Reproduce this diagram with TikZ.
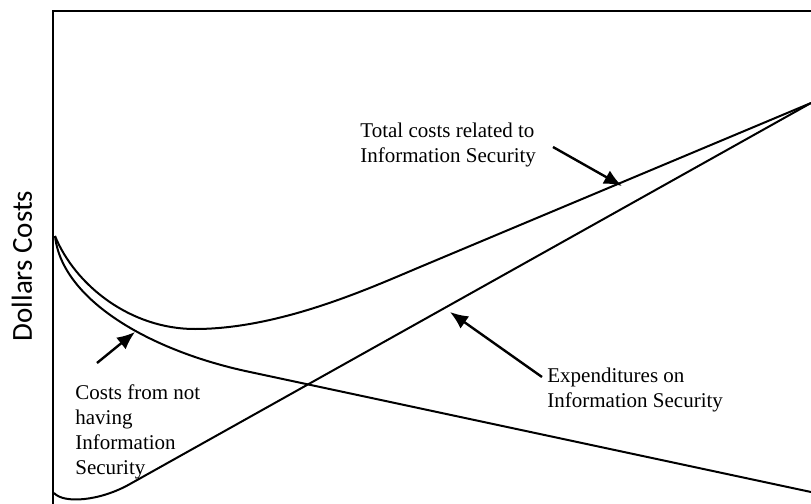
\documentclass[tikz,border=0pt]{standalone}
\usepackage{fontspec}
\setmainfont{Liberation Serif}
\newfontfamily\axisfont{Carlito}
\usetikzlibrary{arrows.meta}
\tikzset{%
  curve/.style   = { line width = 1pt, black },
  frame/.style   = { line width = 1pt, black },
  pointer/.style = { -{Latex[length=9pt, width=7.5pt]}, line width = 1.2pt },
  lbl/.style     = { anchor = base west, inner sep = 0pt, align = left,
    font = \fontsize{10.5}{12.5}\selectfont },
  axislbl/.style = { font = \axisfont\fontsize{14.5}{16}\selectfont, rotate = 90, inner sep = 0pt },
}

\begin{document}
\begin{tikzpicture}[x=0.5pt, y=-0.5pt]
    \useasboundingbox (0,0) rectangle (811,504);
    % frame ----------------------------------------------------------------------------------------
    \draw[frame] (53,504) |- (811,11);
    \node(ylabel) [axislbl] at (22,266) {Dollars Costs};
    % curves ---------------------------------------------------------------------------------------
    % total costs
    \draw[curve] (55,236) .. controls (75,285) and (130,329) .. (195,329)
                          .. controls (280,329) and (370,288) .. (420,267) -- (811,103);
    % costs from not having security
    \draw[curve] (55,236) .. controls (62,300) and (150,351) .. (250,372) -- (811,492);
    % expenditures
    \draw[curve] (54,493) .. controls (64,504) and (100,501) .. (130,484) -- (811,103);
    % labels ---------------------------------------------------------------------------------------
    \node(total) [lbl] at (360,162) {Total costs related to\\Information Security};
    \node(expen) [lbl] at (547,407) {Expenditures on\\Information Security};
    \node(notsec) [lbl] at (75,474) {Costs from not\\having\\Information\\Security};
    % arrows ---------------------------------------------------------------------------------------
    \coordinate(total-tail) at (553,147);
    \coordinate(total-tip)  at (622,186);
    \coordinate(expen-tail) at (542,377);
    \coordinate(expen-tip)  at (450,312);
    \coordinate(notsec-tail) at (97,363);
    \coordinate(notsec-tip)  at (135,332);
    \draw[pointer] (total-tail) -- (total-tip);
    \draw[pointer] (expen-tail) -- (expen-tip);
    \draw[pointer] (notsec-tail) -- (notsec-tip);
\end{tikzpicture}
\end{document}
